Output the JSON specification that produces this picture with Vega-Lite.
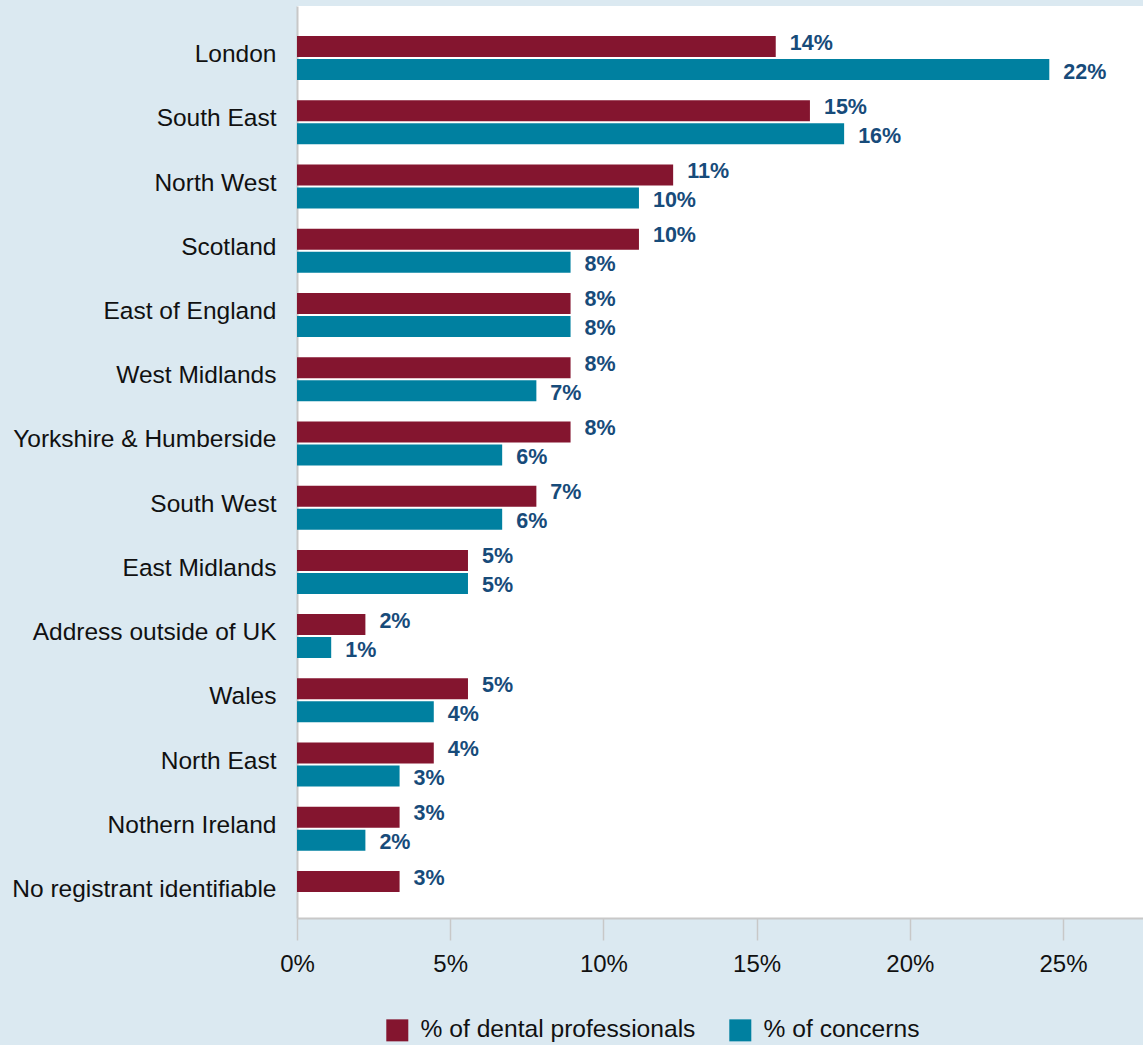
{
  "$schema": "https://vega.github.io/schema/vega-lite/v6.json",
  "width": 846,
  "height": 912,
  "autosize": {"type": "none"},
  "padding": {"left": 297, "top": 6, "right": 0, "bottom": 127},
  "background": "#dbe9f1",
  "config": {
    "view": {"fill": "white", "stroke": null},
    "font": "Liberation Sans"
  },
  "data": {
    "values": [
      {"region": "London", "series": "% of dental professionals", "value": 0.14},
      {"region": "London", "series": "% of concerns", "value": 0.22},
      {"region": "South East", "series": "% of dental professionals", "value": 0.15},
      {"region": "South East", "series": "% of concerns", "value": 0.16},
      {"region": "North West", "series": "% of dental professionals", "value": 0.11},
      {"region": "North West", "series": "% of concerns", "value": 0.10},
      {"region": "Scotland", "series": "% of dental professionals", "value": 0.10},
      {"region": "Scotland", "series": "% of concerns", "value": 0.08},
      {"region": "East of England", "series": "% of dental professionals", "value": 0.08},
      {"region": "East of England", "series": "% of concerns", "value": 0.08},
      {"region": "West Midlands", "series": "% of dental professionals", "value": 0.08},
      {"region": "West Midlands", "series": "% of concerns", "value": 0.07},
      {"region": "Yorkshire & Humberside", "series": "% of dental professionals", "value": 0.08},
      {"region": "Yorkshire & Humberside", "series": "% of concerns", "value": 0.06},
      {"region": "South West", "series": "% of dental professionals", "value": 0.07},
      {"region": "South West", "series": "% of concerns", "value": 0.06},
      {"region": "East Midlands", "series": "% of dental professionals", "value": 0.05},
      {"region": "East Midlands", "series": "% of concerns", "value": 0.05},
      {"region": "Address outside of UK", "series": "% of dental professionals", "value": 0.02},
      {"region": "Address outside of UK", "series": "% of concerns", "value": 0.01},
      {"region": "Wales", "series": "% of dental professionals", "value": 0.05},
      {"region": "Wales", "series": "% of concerns", "value": 0.04},
      {"region": "North East", "series": "% of dental professionals", "value": 0.04},
      {"region": "North East", "series": "% of concerns", "value": 0.03},
      {"region": "Nothern Ireland", "series": "% of dental professionals", "value": 0.03},
      {"region": "Nothern Ireland", "series": "% of concerns", "value": 0.02},
      {"region": "No registrant identifiable", "series": "% of dental professionals", "value": 0.03}
    ]
  },
  "encoding": {
    "y": {
      "field": "region",
      "type": "nominal",
      "sort": ["London", "South East", "North West", "Scotland", "East of England", "West Midlands", "Yorkshire & Humberside", "South West", "East Midlands", "Address outside of UK", "Wales", "North East", "Nothern Ireland", "No registrant identifiable"],
      "scale": {"paddingInner": 0.315, "paddingOuter": 0.257, "align": 0.91},
      "axis": {
        "title": null,
        "domain": true,
        "domainColor": "#c8c8c8",
        "domainWidth": 2,
        "ticks": false,
        "labelFontSize": 24.5,
        "labelColor": "#111111",
        "labelPadding": 21,
        "labelOffset": -3,
        "labelLimit": 0
      }
    },
    "yOffset": {
      "field": "series",
      "type": "nominal",
      "sort": ["% of dental professionals", "% of concerns"],
      "scale": {"paddingInner": 0.087, "paddingOuter": 0}
    }
  },
  "layer": [
    {
      "mark": {"type": "bar"},
      "encoding": {
        "x": {"field": "value", "type": "quantitative", "scale": {"domain": [0, 0.2474], "nice": false}, "axis": null},
        "color": {
          "field": "series",
          "type": "nominal",
          "sort": ["% of dental professionals", "% of concerns"],
          "scale": {"domain": ["% of dental professionals", "% of concerns"], "range": ["#84152f", "#0080a0"]},
          "legend": {
            "title": null,
            "orient": "none",
            "legendX": 88,
            "legendY": 1012,
            "direction": "horizontal",
            "symbolType": "square",
            "symbolSize": 484,
            "symbolStrokeWidth": 0,
            "labelFontSize": 24.6,
            "labelColor": "#111111",
            "labelOffset": 11,
            "columnPadding": 32,
            "labelLimit": 0
          }
        }
      }
    },
    {
      "transform": [{"filter": "datum.series == '% of dental professionals'"}],
      "mark": {"type": "text", "align": "left", "baseline": "middle", "dx": 14, "dy": -3, "fontSize": 21.5, "fontWeight": "bold", "color": "#174b7a"},
      "encoding": {
        "x": {"field": "value", "type": "quantitative", "scale": {"domain": [0, 0.2474], "nice": false}, "axis": null},
        "text": {"field": "value", "type": "quantitative", "format": ".0%"}
      }
    },
    {
      "transform": [{"filter": "datum.series == '% of concerns'"}],
      "mark": {"type": "text", "align": "left", "baseline": "middle", "dx": 14, "dy": 3, "fontSize": 21.5, "fontWeight": "bold", "color": "#174b7a"},
      "encoding": {
        "x": {"field": "value", "type": "quantitative", "scale": {"domain": [0, 0.2474], "nice": false}, "axis": null},
        "text": {"field": "value", "type": "quantitative", "format": ".0%"}
      }
    },
    {
      "mark": {"type": "tick", "opacity": 0},
      "encoding": {
        "x": {
          "field": "value",
          "type": "quantitative",
          "scale": {"domain": [0, 0.2761], "nice": false},
          "axis": {
            "title": null,
            "values": [0, 0.05, 0.10, 0.15, 0.20, 0.25],
            "format": ".0%",
            "grid": false,
            "domain": true,
            "domainColor": "#c8c8c8",
            "domainWidth": 2,
            "ticks": true,
            "tickColor": "#c8c8c8",
            "tickWidth": 1.5,
            "tickSize": 22,
            "labelFontSize": 24,
            "labelColor": "#111111",
            "labelPadding": 12,
            "labelFlush": false
          }
        }
      }
    }
  ],
  "resolve": {"scale": {"x": "independent"}}
}
